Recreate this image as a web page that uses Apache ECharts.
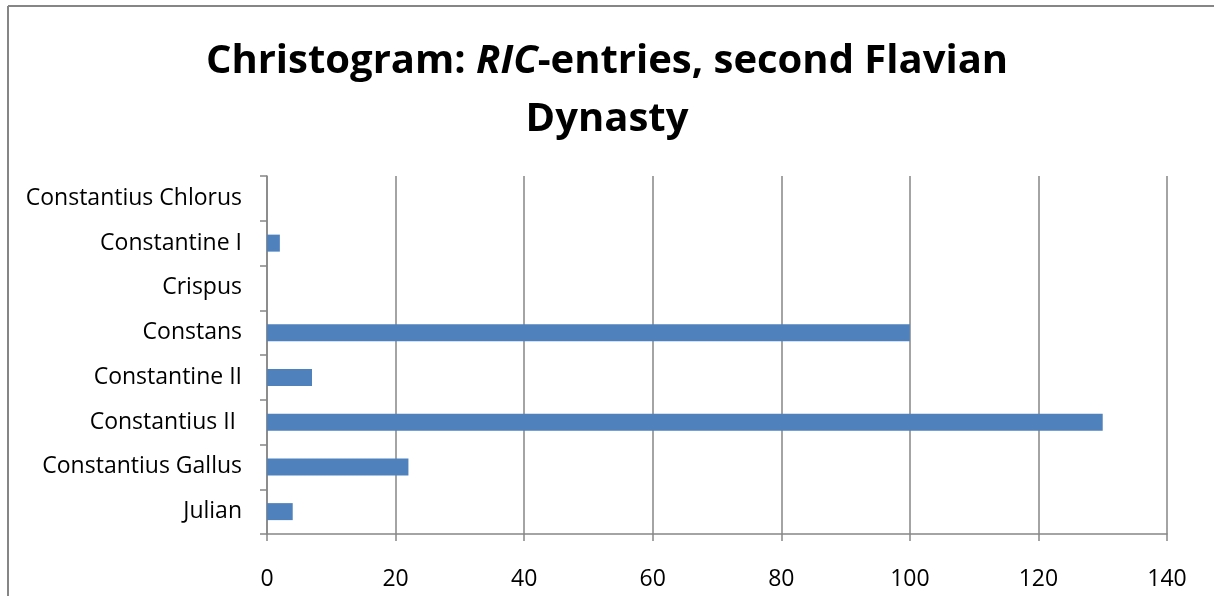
<!DOCTYPE html>
<html>
<head>
<meta charset="utf-8">
<script src="https://cdn.jsdelivr.net/npm/echarts@6/dist/echarts.min.js"></script>
<style>
  body { margin: 0; background: #fff; }
  #chart { width: 1214px; height: 596px; }
</style>
</head>
<body>
<div id="chart"></div>
<script>
// rulers, top to bottom
const rulers = ['Constantius Chlorus', 'Constantine I', 'Crispus', 'Constans',
  'Constantine II', 'Constantius II ', 'Constantius Gallus', 'Julian']
// number of RIC entries
const entries = [0, 2, 0, 100, 7, 130, 22, 4]
const xTicks = [0, 20, 40, 60, 80, 100, 120, 140]

const font = 'Open Sans, Liberation Sans, sans-serif'
const chart = echarts.init(document.getElementById('chart'))

chart.setOption({
  animation: false,
  title: {
    text: '{b|Christogram: }{i|RIC}{b|-entries, second Flavian}\n{b|Dynasty}',
    left: 'center',
    top: 28,
    textStyle: {
      align: 'center',
      rich: {
        b: { fontFamily: font, fontWeight: 'bold', fontSize: 40, color: '#000', lineHeight: 58 },
        i: { fontFamily: font, fontWeight: 'bold', fontStyle: 'italic', fontSize: 40, color: '#000', lineHeight: 58 }
      }
    }
  },
  // frame of the chart area (top and left edges only show)
  graphic: [
    { type: 'line', shape: { x1: 8, y1: 6, x2: 1214, y2: 6 }, style: { stroke: '#868686', lineWidth: 2 } },
    { type: 'line', shape: { x1: 8, y1: 6, x2: 8, y2: 596 }, style: { stroke: '#868686', lineWidth: 2 } }
  ],
  grid: { left: 267, right: 47, top: 176, bottom: 62 },
  xAxis: {
    type: 'value',
    min: 0,
    max: xTicks[xTicks.length - 1],
    interval: 20,
    axisLine: { show: true, lineStyle: { color: '#868686', width: 1.5 } },
    axisTick: { show: true, length: 7, lineStyle: { color: '#868686', width: 1.5 } },
    splitLine: { show: true, lineStyle: { color: '#868686', width: 1.5 } },
    axisLabel: { fontFamily: font, fontSize: 23, color: '#000', margin: 34 }
  },
  yAxis: {
    type: 'category',
    inverse: true,
    data: rulers,
    axisLine: { show: true, lineStyle: { color: '#868686', width: 1.5 } },
    axisTick: { show: true, length: 7, lineStyle: { color: '#868686', width: 1.5 } },
    axisLabel: { fontFamily: font, fontSize: 23, color: '#000', margin: 25 }
  },
  series: [{
    type: 'bar',
    data: entries,
    barWidth: 17,
    itemStyle: { color: '#4f81bd' }
  }]
})
</script>
</body>
</html>
